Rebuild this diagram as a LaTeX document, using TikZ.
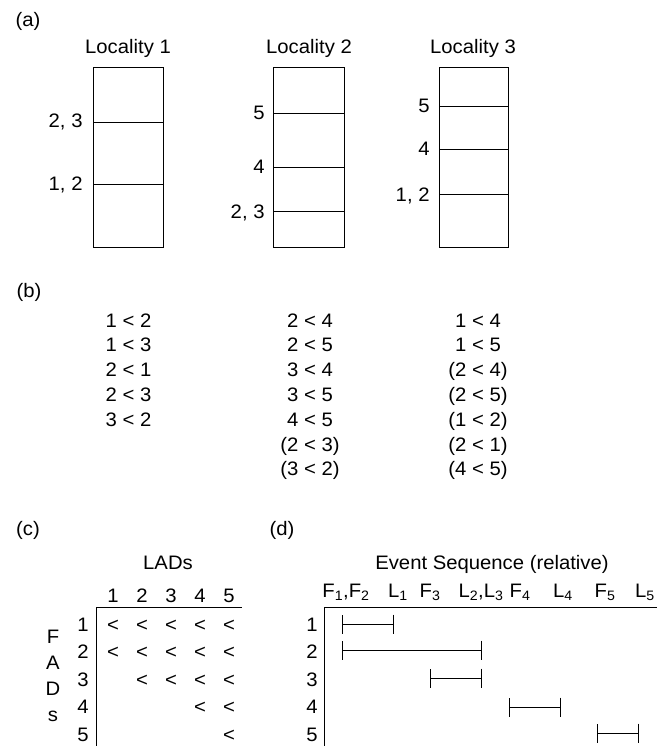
\documentclass[tikz,border=0pt]{standalone}
\usepackage{fontspec}
\setmainfont{Liberation Sans}[FakeStretch=1.04]
\usetikzlibrary{arrows.meta}
\begin{document}
\begin{tikzpicture}[x=1pt,y=-1pt,line width=0.9pt,
  every node/.style={inner sep=0pt,font=\fontsize{19.5}{22}\selectfont},
  txt/.style={anchor=base},
  lab/.style={anchor=base east},
  box/.style={draw,line width=0.9pt},
  interval/.style={{Bar[width=19pt]}-{Bar[width=19pt]},line width=0.9pt}]
\fill[white] (0,0) rectangle (657,746);
\useasboundingbox (0,0) rectangle (657,746);

% ---------- (a) localities ----------
\node[txt] (tagA) at (28,27) {(a)};
\node[txt] (loc1) at (128,54) {Locality 1};
\node[txt] (loc2) at (309,54) {Locality 2};
\node[txt] (loc3) at (473,54) {Locality 3};

\draw[box] (93,67) rectangle (163,247);
\draw (93,122) -- (163,122);
\draw (93,184) -- (163,184);
\node[lab] (l1a) at (83,128) {2, 3};
\node[lab] (l1b) at (83,190) {1, 2};

\draw[box] (273,67) rectangle (344,247);
\draw (273,113) -- (344,113);
\draw (273,167) -- (344,167);
\draw (273,211) -- (344,211);
\node[lab] (l2a) at (265,120) {5};
\node[lab] (l2b) at (265,174) {4};
\node[lab] (l2c) at (265,218) {2, 3};

\draw[box] (439,67) rectangle (508,247);
\draw (439,106) -- (508,106);
\draw (439,149) -- (508,149);
\draw (439,194) -- (508,194);
\node[lab] (l3a) at (430,113) {5};
\node[lab] (l3b) at (430,156) {4};
\node[lab] (l3c) at (430,201) {1, 2};

% ---------- (b) order relations ----------
\node[txt] (tagB) at (29,297) {(b)};
\foreach \t [count=\i from 0] in {1 < 2, 1 < 3, 2 < 1, 2 < 3, 3 < 2}
  \node[txt] (ba\i) at (128.5,327+24.8*\i) {\t};
\foreach \t [count=\i from 0] in {2 < 4, 2 < 5, 3 < 4, 3 < 5, 4 < 5, {(2 < 3)}, {(3 < 2)}}
  \node[txt] (bb\i) at (310,327+24.8*\i) {\t};
\foreach \t [count=\i from 0] in {1 < 4, 1 < 5, {(2 < 4)}, {(2 < 5)}, {(1 < 2)}, {(2 < 1)}, {(4 < 5)}}
  \node[txt] (bc\i) at (478,327+24.8*\i) {\t};

% ---------- (c) FAD / LAD matrix ----------
\node[txt] (tagC) at (28,535) {(c)};
\node[txt] (lads) at (168,569) {LADs};
\foreach \c in {1,...,5}
  \node[txt] (colc\c) at ({113+29*(\c-1)},602) {\c};
\foreach \r in {1,...,5}
  \node[txt] (rowc\r) at (83,{631+27.5*(\r-1)}) {\r};
\foreach \t [count=\i from 0] in {F,A,D,s}
  \node[txt] (fads\i) at (53,643+26*\i) {\t};
\draw (96,607) -- (242,607);
\draw (96,607) -- (96,746);
\foreach \r/\s in {1/1,2/1,3/2,4/4,5/5}
  \foreach \c in {\s,...,5}
    \node[txt] (lt\r\c) at ({113+29*(\c-1)},{631+27.5*(\r-1)}) {<};

% ---------- (d) event sequence ----------
\node[txt] (tagD) at (282,535) {(d)};
\node[txt] (evseq) at (492,569) {Event Sequence (relative)};
\node[txt] (hF12) at (346,597) {F\textsubscript{1},F\textsubscript{2}};
\node[txt] (hL1) at (398,597) {L\textsubscript{1}};
\node[txt] (hF3) at (430,597) {F\textsubscript{3}};
\node[txt] (hL23) at (481,597) {L\textsubscript{2},L\textsubscript{3}};
\node[txt] (hF4) at (520,597) {F\textsubscript{4}};
\node[txt] (hL4) at (563,597) {L\textsubscript{4}};
\node[txt] (hF5) at (605,597) {F\textsubscript{5}};
\node[txt] (hL5) at (645,597) {L\textsubscript{5}};
\draw (324,607) -- (657,607);
\draw (324,607) -- (324,746);
\foreach \r in {1,...,5}
  \node[txt] (rowd\r) at (312,{631+27.5*(\r-1)}) {\r};

\coordinate (s1) at (342,624); \coordinate (e1) at (394,624);
\coordinate (s2) at (342,650); \coordinate (e2) at (482,650);
\coordinate (s3) at (430,678); \coordinate (e3) at (482,678);
\coordinate (s4) at (509,707); \coordinate (e4) at (561,707);
\coordinate (s5) at (597,733); \coordinate (e5) at (639,733);
\foreach \k in {1,...,5}
  \draw[interval] (s\k) -- (e\k);
\end{tikzpicture}
\end{document}
